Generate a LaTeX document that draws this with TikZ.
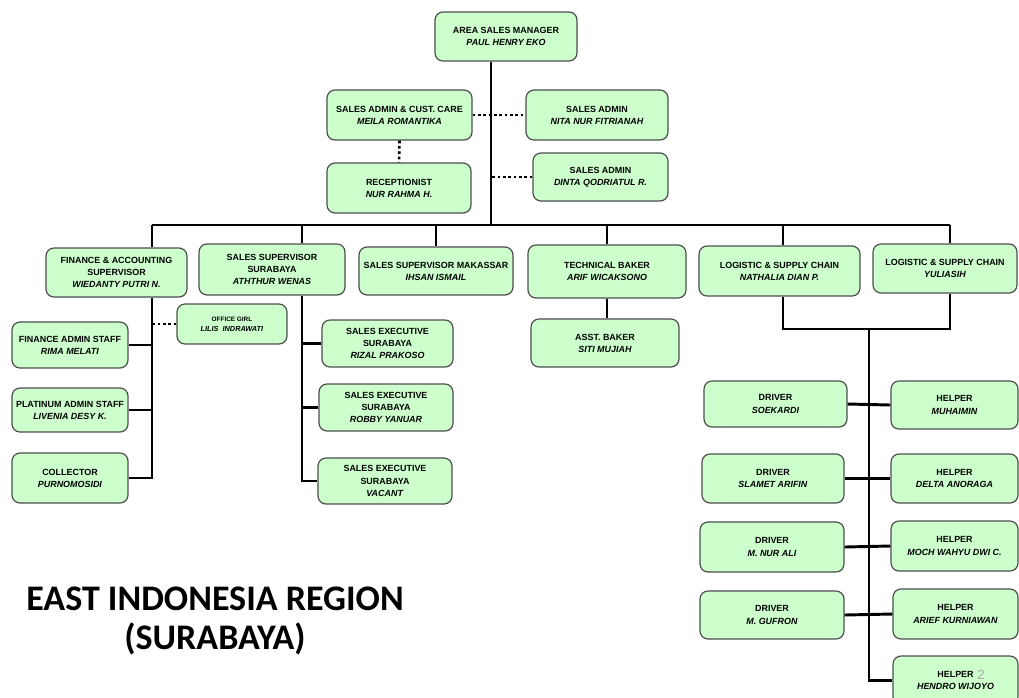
\documentclass[tikz,border=0pt]{standalone}
\usepackage{fontspec}
\setmainfont{Liberation Sans}
\newfontfamily\regionfont{Carlito}
\usepackage{xcolor}
\definecolor{boxgreen}{HTML}{CCFFCC}
\definecolor{boxline}{HTML}{4D4D4D}

\begin{document}
\begin{tikzpicture}[
  x=0.75pt, y=-0.75pt,
  box/.style={rectangle,rounded corners=6pt,draw=boxline,line width=0.9pt,fill=boxgreen,
    inner sep=0pt,align=center,font=\bfseries\fontsize{6.7}{9.1}\selectfont},
  wh/.style 2 args={minimum width=#1*0.75pt,minimum height=#2*0.75pt},
  link/.style={line width=2.2pt},
  dotlink/.style={line width=2pt,dotted}
]
  \useasboundingbox (0,0) rectangle (1019,697);
  \clip (0,0) rectangle (1019,697);

  % management
  \node[box,wh={142}{49}] (asm) at (506,36.5) {AREA SALES MANAGER\\\textit{PAUL HENRY EKO}};
  \node[box,wh={145}{50}] (sacc) at (399.5,115) {SALES ADMIN \& CUST. CARE\\\textit{MEILA ROMANTIKA}};
  \node[box,wh={144}{50}] (recep) at (399,188) {RECEPTIONIST\\\textit{NUR RAHMA H.}};
  \node[box,wh={142}{50}] (nita) at (597,115) {SALES ADMIN\\\textit{NITA NUR FITRIANAH}};
  \node[box,wh={135}{48}] (dinta) at (600.5,177) {SALES ADMIN\\\textit{DINTA QODRIATUL R.}};

  % second level
  \node[box,wh={141}{49}] (fin) at (116.5,272.5) {FINANCE \& ACCOUNTING\\SUPERVISOR\\\textit{WIEDANTY PUTRI N.}};
  \node[box,wh={146}{51}] (sss) at (272,269.5) {SALES SUPERVISOR\\SURABAYA\\\textit{ATHTHUR WENAS}};
  \node[box,wh={154}{48}] (mks) at (436,271) {SALES SUPERVISOR MAKASSAR\\\textit{IHSAN ISMAIL}};
  \node[box,wh={158}{53}] (tech) at (607,271.5) {TECHNICAL BAKER\\\textit{ARIF WICAKSONO}};
  \node[box,wh={161}{50}] (logn) at (779.5,271) {LOGISTIC \& SUPPLY CHAIN\\\textit{NATHALIA DIAN P.}};
  \node[box,wh={144}{49}] (logy) at (945,268.5) {LOGISTIC \& SUPPLY CHAIN\\\textit{YULIASIH}};

  % finance staff
  \node[box,wh={116}{46}] (finadm) at (70,345) {FINANCE ADMIN STAFF\\\textit{RIMA MELATI}};
  \node[box,wh={116}{44}] (plat) at (70,410) {PLATINUM ADMIN STAFF\\\textit{LIVENIA DESY K.}};
  \node[box,wh={116}{50}] (coll) at (70,478) {COLLECTOR\\\textit{PURNOMOSIDI}};
  \node[box,wh={110}{40},font=\bfseries\fontsize{4.8}{7.4}\selectfont] (girl) at (232,324)
    {OFFICE GIRL\\{\fontsize{5.5}{7.4}\selectfont\textit{LILIS\ \ INDRAWATI}}};

  % sales executives
  \node[box,wh={131}{47}] (se1) at (387.5,343.5) {SALES EXECUTIVE\\SURABAYA\\\textit{RIZAL PRAKOSO}};
  \node[box,wh={134}{47}] (se2) at (386,407.5) {SALES EXECUTIVE\\SURABAYA\\\textit{ROBBY YANUAR}};
  \node[box,wh={134}{46}] (se3) at (385,481) {SALES EXECUTIVE\\SURABAYA\\\textit{VACANT}};

  \node[box,wh={148}{48}] (asst) at (605,343) {ASST. BAKER\\\textit{SITI MUJIAH}};

  % drivers and helpers
  \node[box,wh={143}{46}] (drv1) at (775.5,404) {DRIVER\\\textit{SOEKARDI}};
  \node[box,wh={142}{49}] (drv2) at (773,478.5) {DRIVER\\\textit{SLAMET ARIFIN}};
  \node[box,wh={144}{50}] (drv3) at (772,547) {DRIVER\\\textit{M. NUR ALI}};
  \node[box,wh={144}{48}] (drv4) at (772,615) {DRIVER\\\textit{M. GUFRON}};
  \node[box,wh={127}{48}] (hlp1) at (954.5,405) {HELPER\\\textit{MUHAIMIN}};
  \node[box,wh={127}{49}] (hlp2) at (954.5,478.5) {HELPER\\\textit{DELTA ANORAGA}};
  \node[box,wh={127}{50}] (hlp3) at (954.5,546) {HELPER\\\textit{MOCH WAHYU DWI C.}};
  \node[box,wh={125}{50}] (hlp4) at (955.5,614) {HELPER\\\textit{ARIEF KURNIAWAN}};
  \node[box,wh={125}{49}] (hlp5) at (955.5,680.5) {HELPER\\\textit{HENDRO WIJOYO}};

  \node[text=gray!70,font=\fontsize{10}{10}\selectfont] (pagenum) at (981,675) {2};

  \node[align=center,font=\regionfont\bfseries\fontsize{27}{29.5}\selectfont] (region) at (215,621)
    {EAST INDONESIA REGION\\(SURABAYA)};

  % junctions
  \coordinate (trunk) at (491,225);
  \coordinate (jfin) at (152,225);
  \coordinate (jsss) at (302,225);
  \coordinate (jlogn) at (783,225);
  \coordinate (jlogy) at (950,225);
  \coordinate (lmerge) at (869,329);

  % solid lines
  \draw[link] (asm.south -| trunk) -- (trunk);
  \draw[link] (jfin) -- (jlogy);
  \draw[link] (fin.north -| jfin) -- (jfin);
  \draw[link] (sss.north -| jsss) -- (jsss);
  \draw[link] (mks.north) -- (mks.north |- trunk);
  \draw[link] (tech.north) -- (tech.north |- trunk);
  \draw[link] (logn.north -| jlogn) -- (jlogn);
  \draw[link] (logy.north -| jlogy) -- (jlogy);

  \draw[link] (fin.south -| jfin) |- (coll.east);
  \draw[link] (finadm.east) -- (finadm.east -| jfin);
  \draw[link] (plat.east) -- (plat.east -| jfin);

  \draw[link] (sss.south -| jsss) |- (se3.west);
  \draw[link] (se1.west) -- (se1.west -| jsss);
  \draw[link] (se2.west) -- (se2.west -| jsss);

  \draw[link] (tech.south) -- (tech.south |- asst.north);

  \draw[link] (logn.south -| jlogn) |- (lmerge);
  \draw[link] (logy.south -| jlogy) |- (lmerge);
  \draw[link] (lmerge) |- (hlp5.west);
  \foreach \i in {1,...,4}
    \draw[link] (drv\i.east) -- (hlp\i.west);

  % dotted lines
  \draw[dotlink] (sacc.east) -- (nita.west);
  \draw[dotlink] (sacc.south) -- (recep.north);
  \draw[dotlink] (dinta.west) -- (dinta.west -| trunk);
  \draw[dotlink] (girl.west) -- (girl.west -| jfin);
\end{tikzpicture}
\end{document}
